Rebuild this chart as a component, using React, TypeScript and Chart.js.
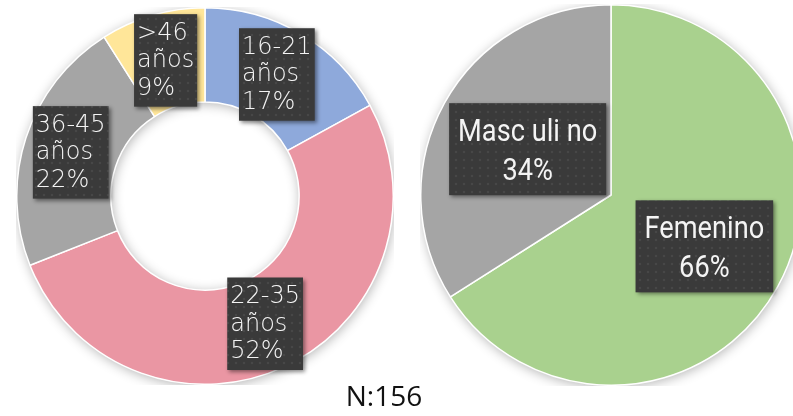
import { useEffect, useRef } from "react";
import { Chart, registerables } from "chart.js";

Chart.register(...registerables);

// ---- data ----
const ageCategories = ["16-21 años", "22-35 años", "36-45 años", ">46 años"];
const ageValues = [17, 52, 22, 9];
const ageColors = ["#8EA9DB", "#EA96A3", "#A5A5A5", "#FFE699"];

const genderCategories = ["Femenino", "Masc uli no"];
const genderValues = [66, 34];
const genderColors = ["#A9D18E", "#A5A5A5"];

const sampleNote = "N:156";

// ---- plugin: base shadow + dark labelled boxes ----
const boxLabelPlugin = {
  id: "boxLabels",
  beforeDatasetsDraw(chart: any) {
    const meta = chart.getDatasetMeta(0);
    const arc = meta.data[0];
    if (!arc) return;
    const { x, y, innerRadius, outerRadius } = arc.getProps(
      ["x", "y", "innerRadius", "outerRadius"],
      true
    );
    const ctx = chart.ctx;
    ctx.save();
    ctx.shadowColor = "rgba(0,0,0,0.30)";
    ctx.shadowBlur = 12;
    ctx.shadowOffsetX = 1;
    ctx.shadowOffsetY = 2;
    ctx.beginPath();
    ctx.arc(x, y, outerRadius, 0, Math.PI * 2);
    if (innerRadius > 0) {
      ctx.moveTo(x + innerRadius, y);
      ctx.arc(x, y, innerRadius, 0, Math.PI * 2, true);
    }
    ctx.fillStyle = "#ffffff";
    ctx.fill("evenodd");
    ctx.restore();
  },
  afterDatasetsDraw(chart: any, _args: any, opts: any) {
    const ctx = chart.ctx;
    const meta = chart.getDatasetMeta(0);
    const data = chart.data.datasets[0].data as number[];
    const total = data.reduce((a: number, b: number) => a + b, 0);
    const labels = chart.data.labels as string[];
    const sx = opts.scaleX ?? 1;
    meta.data.forEach((arc: any, i: number) => {
      const p = arc.getProps(
        ["x", "y", "startAngle", "endAngle", "innerRadius", "outerRadius"],
        true
      );
      const mid = (p.startAngle + p.endAngle) / 2;
      const f = (opts.radial && opts.radial[i]) ?? 0.5;
      const r = p.innerRadius + (p.outerRadius - p.innerRadius) * f;
      const cx = p.x + Math.cos(mid) * r;
      const cy = p.y + Math.sin(mid) * r;
      const pct = Math.round((data[i] / total) * 100) + "%";
      const lines = opts.split ? [...labels[i].split(" "), pct] : [labels[i], pct];
      ctx.save();
      ctx.font = opts.font;
      const widths = lines.map((l: string) => ctx.measureText(l).width * sx);
      const maxW = Math.max(...widths);
      const w = maxW + opts.padX * 2;
      const h = lines.length * opts.lineH + opts.padY * 2;
      const bx = cx - w / 2;
      const by = cy - h / 2;
      ctx.shadowColor = "rgba(0,0,0,0.45)";
      ctx.shadowBlur = 4;
      ctx.shadowOffsetX = 2;
      ctx.shadowOffsetY = 2;
      ctx.fillStyle = "#3a3a3a";
      ctx.fillRect(bx, by, w, h);
      ctx.restore();
      // dotted texture
      ctx.save();
      ctx.beginPath();
      ctx.rect(bx, by, w, h);
      ctx.clip();
      ctx.fillStyle = "rgba(255,255,255,0.07)";
      for (let yy = Math.floor(by / 8) * 8 + 4; yy < by + h; yy += 8) {
        for (let xx = Math.floor(bx / 8) * 8 + 4; xx < bx + w; xx += 8) {
          ctx.beginPath();
          ctx.arc(xx, yy, 1.3, 0, Math.PI * 2);
          ctx.fill();
        }
      }
      ctx.restore();
      // text
      ctx.save();
      ctx.font = opts.font;
      ctx.fillStyle = "#f4f4f4";
      ctx.textBaseline = "alphabetic";
      ctx.textAlign = opts.align;
      lines.forEach((l: string, k: number) => {
        const ty = cy + (k - (lines.length - 1) / 2) * opts.lineH + opts.shift;
        const tx = opts.align === "center" ? cx : bx + opts.padX;
        ctx.save();
        ctx.translate(tx, ty);
        ctx.scale(sx, 1);
        ctx.fillText(l, 0, 0);
        ctx.restore();
      });
      ctx.restore();
    });
  },
};

function PieCanvas(props: {
  type: "doughnut" | "pie";
  labels: string[];
  values: number[];
  colors: string[];
  size: number;
  left: number;
  top: number;
  labelOpts: any;
  cutout?: string;
}) {
  const ref = useRef<HTMLCanvasElement | null>(null);
  useEffect(() => {
    if (!ref.current) return;
    const chart = new Chart(ref.current, {
      type: props.type,
      data: {
        labels: props.labels,
        datasets: [
          {
            data: props.values,
            backgroundColor: props.colors,
            borderColor: "#ffffff",
            borderWidth: 1.5,
          },
        ],
      },
      options: {
        responsive: false,
        animation: false,
        cutout: props.cutout ?? 0,
        layout: { padding: 0 },
        plugins: {
          legend: { display: false },
          tooltip: { enabled: false },
          boxLabels: props.labelOpts,
        } as any,
      },
      plugins: [boxLabelPlugin],
    });
    return () => chart.destroy();
  }, []);
  return (
    <canvas
      ref={ref}
      width={props.size}
      height={props.size}
      style={{
        position: "absolute",
        left: props.left,
        top: props.top,
        width: props.size,
        height: props.size,
      }}
    />
  );
}

export default function App() {
  return (
    <div
      style={{
        position: "fixed",
        left: 0,
        top: 0,
        width: 793,
        height: 416,
        overflow: "hidden",
        background: "#ffffff",
      }}
    >
      <PieCanvas
        type="doughnut"
        labels={ageCategories}
        values={ageValues}
        colors={ageColors}
        size={378}
        left={16}
        top={7}
        cutout="50%"
        labelOpts={{
          split: true,
          font: "200 24px 'DejaVu Sans'",
          lineH: 27.5,
          padX: 3,
          padY: 5,
          shift: 7,
          align: "left",
        }}
      />
      <PieCanvas
        type="pie"
        labels={genderCategories}
        values={genderValues}
        colors={genderColors}
        size={382}
        left={420}
        top={4}
        labelOpts={{
          split: false,
          font: "400 32px 'Roboto'",
          scaleX: 0.85,
          lineH: 39,
          padX: 9,
          padY: 7,
          shift: 11,
          align: "center",
          radial: [0.56, 0.5],
        }}
      />
      <div
        style={{
          position: "absolute",
          left: 334,
          width: 100,
          top: 376,
          textAlign: "center",
          fontFamily: "'Open Sans', sans-serif",
          fontSize: 28,
          lineHeight: "38px",
          color: "#111",
        }}
      >
        {sampleNote}
      </div>
    </div>
  );
}
